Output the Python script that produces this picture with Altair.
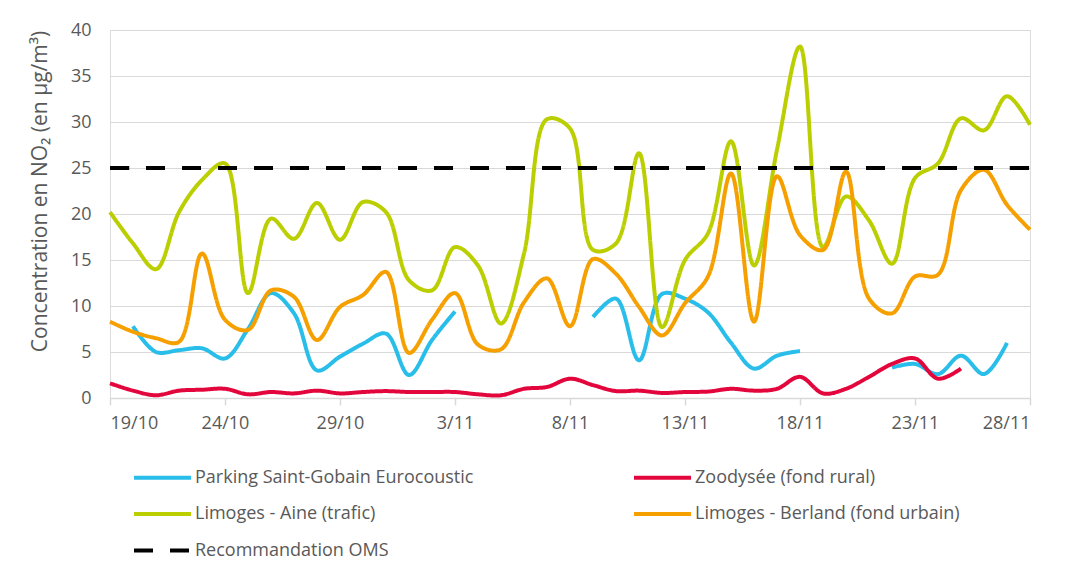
import altair as alt
import pandas as pd

# ---- data ----
days = list(range(41))  # 0 = 19/10 ... 40 = 28/11
tick_days = [0, 5, 10, 15, 20, 25, 30, 35, 40]
tick_labels = ["19/10", "24/10", "29/10", "3/11", "8/11", "13/11", "18/11", "23/11", "28/11"]
y_ticks = [0, 5, 10, 15, 20, 25, 30, 35, 40]

series_names = [
    "Parking Saint-Gobain Eurocoustic",
    "Zoodysée (fond rural)",
    "Limoges - Aine (trafic)",
    "Limoges - Berland (fond urbain)",
    "Recommandation OMS",
]
colors = ["#29BDEA", "#E3063C", "#BBCF00", "#F6A000", "#000000"]

parking = [None, 7.8, 5.0, 5.2, 5.4, 4.3, 7.5, 11.4, 9.2, 3.0, 4.5, 5.9, 7.0, 2.5, 6.3, 9.4,
           None, None, None, None, None,
           8.8, 10.8, 4.1, 11.3, 10.8, 9.3, 6.0, 3.2, 4.6, 5.1,
           None, None, None,
           3.3, 3.7, 2.6, 4.6, 2.6, 6.0, None]
zoodysee = [1.6, 0.8, 0.3, 0.8, 0.9, 1.0, 0.4, 0.65, 0.5, 0.8, 0.5, 0.65, 0.75, 0.65, 0.65,
            0.65, 0.4, 0.3, 1.0, 1.2, 2.1, 1.4, 0.75, 0.8, 0.55, 0.65, 0.7, 1.0,
            0.8, 1.0, 2.3, 0.5, 1.0, 2.3, 3.7, 4.3, 2.1, 3.2, None, None, None]
aine = [20.2, 16.8, 14.0, 20.2, 23.7, 25.5, 11.4, 19.5, 17.3, 21.2, 17.2, 21.3, 20.2, 12.8, 11.7,
        16.4, 14.4, 8.1, 15.7, 30.3, 29.3, 16.1, 16.8, 26.6, 7.7, 15.0, 17.9, 27.9,
        14.4, 27.0, 38.2, 16.4, 21.9, 19.3, 14.6, 23.9, 25.5, 30.4, 29.1, 32.8, 29.7]
berland = [8.3, 7.2, 6.5, 6.1, 15.7, 8.5, 7.4, 11.7, 11.0, 6.3, 9.9, 11.2, 13.7, 4.9, 8.5,
           11.4, 5.8, 5.3, 10.4, 13.0, 7.8, 15.1, 13.5, 9.9, 6.8, 10.3, 13.2, 24.4,
           8.3, 24.1, 17.7, 16.1, 24.6, 10.8, 9.2, 13.2, 13.4, 22.6, 24.8, 21.0, 18.3]
oms_value = 25

# ---- long table ----
all_series = [parking, zoodysee, aine, berland, [oms_value] * len(days)]
rows = []
for name, vals in zip(series_names, all_series):
    seg = 0
    gap = True
    for d, v in zip(days, vals):
        if v is None:
            gap = True
            continue
        if gap:
            seg += 1
            gap = False
        rows.append({"day": d, "value": v, "series": name, "seg": f"{name}-{seg}"})
df = pd.DataFrame(rows)

FONT = "Open Sans"
GREY = "#595959"
label_expr = "[" + ",".join(f"'{t}'" for t in tick_labels) + "][round(datum.value / 5)]"

color_scale = alt.Scale(domain=series_names, range=colors)
dash_scale = alt.Scale(domain=series_names, range=[[1, 0], [1, 0], [1, 0], [1, 0], [19, 17]])

legend = alt.Legend(
    title=None,
    orient="none",
    direction="horizontal",
    legendX=36,
    legendY=431,
    columns=2,
    columnPadding=152,
    rowPadding=10.5,
    symbolType="M-2,0H2",
    symbolSize=812,
    symbolStrokeWidth=4,
    labelFontSize=18,
    labelFont=FONT,
    labelColor=GREY,
    labelLimit=500,
    labelOffset=16,
    padding=0,
)

chart = (
    alt.Chart(df)
    .mark_line(interpolate="catmull-rom", strokeWidth=4, strokeJoin="round")
    .encode(
        x=alt.X(
            "day:Q",
            scale=alt.Scale(domain=[0, 40], nice=False, zero=False),
            axis=alt.Axis(
                values=tick_days,
                labelExpr=label_expr,
                title=None,
                grid=False,
                domainColor="#D9D9D9",
                domainWidth=1.5,
                tickColor="#D9D9D9",
                tickWidth=1.5,
                tickSize=7,
                labelFontSize=18,
                labelFont=FONT,
                labelColor=GREY,
                labelPadding=9,
            ),
        ),
        y=alt.Y(
            "value:Q",
            scale=alt.Scale(domain=[0, 40], nice=False),
            axis=alt.Axis(
                values=y_ticks,
                title="Concentration en NO₂ (en µg/m³)",
                titleFontSize=21,
                titleFont=FONT,
                titleColor=GREY,
                titleFontWeight="normal",
                titleX=-70,
                titleY=161,
                titleAlign="center",
                titleBaseline="middle",
                titleAngle=270,
                grid=True,
                gridColor="#D9D9D9",
                gridWidth=1.2,
                domain=False,
                ticks=False,
                labelFontSize=18,
                labelFont=FONT,
                labelColor=GREY,
                labelPadding=19,
            ),
        ),
        color=alt.Color("series:N", scale=color_scale, legend=legend),
        strokeDash=alt.StrokeDash("series:N", scale=dash_scale, legend=legend),
        detail="seg:N",
    )
    .properties(
        width=920,
        height=368,
        autosize=alt.AutoSizeParams(type="none"),
        padding={"left": 102, "top": 22, "right": 30, "bottom": 176},
    )
    .configure_view(stroke=None)
    .configure(font=FONT)
)

chart.save("out.html", embed_options={"renderer": "svg", "actions": False})
